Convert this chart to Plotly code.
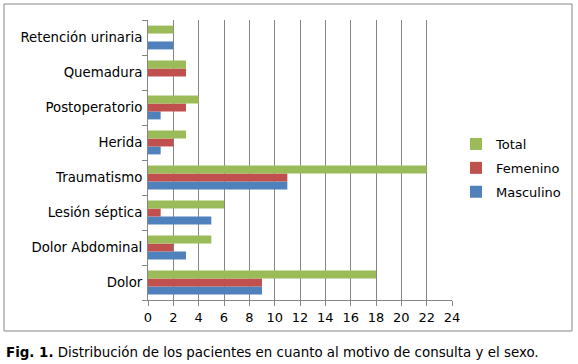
import plotly.graph_objects as go

categories = ["Dolor", "Dolor Abdominal", "Lesión séptica", "Traumatismo",
              "Herida", "Postoperatorio", "Quemadura", "Retención urinaria"]
masculino = [9, 3, 5, 11, 1, 1, 0, 2]
femenino = [9, 2, 1, 11, 2, 3, 3, 0]
total = [18, 5, 6, 22, 3, 4, 3, 2]
x_ticks = list(range(0, 25, 2))

W, H = 578, 364
L, R, T, B = 148, 126, 20, 64
pw, ph = W - L - R, H - T - B

def px(x):
    return (x - L) / pw

def py(y):
    return (H - B - y) / ph

fig = go.Figure()
fig.add_trace(go.Bar(y=categories, x=masculino, name="Masculino", orientation="h",
                     legendgroup="m", legendrank=3, marker=dict(color="#4F81BD", line=dict(width=0))))
fig.add_trace(go.Bar(y=categories, x=femenino, name="Femenino", orientation="h",
                     legendgroup="f", legendrank=2, marker=dict(color="#C0504D", line=dict(width=0))))
fig.add_trace(go.Bar(y=categories, x=total, name="Total", orientation="h",
                     legendgroup="t", legendrank=1, marker=dict(color="#9BBB59", line=dict(width=0))))

font = "Verdana, DejaVu Sans, sans-serif"
fig.update_layout(
    width=W, height=H,
    margin=dict(l=L, r=R, t=T, b=B, autoexpand=False),
    paper_bgcolor="white", plot_bgcolor="white",
    barmode="group", bargap=0.32, bargroupgap=0,
    font=dict(family=font, size=13, color="#000000"),
    showlegend=True,
    legend=dict(traceorder="grouped", x=px(456), y=py(168), xanchor="left", yanchor="middle",
                font=dict(size=13), itemwidth=30, tracegroupgap=4, bgcolor="rgba(0,0,0,0)"),
    xaxis=dict(range=[0, 24], tickvals=x_ticks, ticktext=[str(v) for v in x_ticks],
               showgrid=True, gridcolor="#868686", gridwidth=1,
               showline=True, linecolor="#868686", linewidth=1, automargin=False,
               ticks="outside", ticklen=5, tickcolor="#868686", zeroline=False,
               tickfont=dict(size=13)),
    yaxis=dict(showgrid=False, showline=True, linecolor="#868686", linewidth=1, automargin=False,
               ticks="outside", ticklen=5, tickcolor="#868686", tickson="boundaries",
               tickfont=dict(size=13.3), ticklabelstandoff=2),
)

fig.add_shape(type="rect", xref="paper", yref="paper",
              x0=px(4), x1=px(572), y0=py(331), y1=py(4),
              line=dict(color="#868686", width=1), fillcolor="rgba(0,0,0,0)", layer="below")

fig.add_annotation(xref="paper", yref="paper", x=px(4), y=py(352), xanchor="left", yanchor="middle",
                   showarrow=False, align="left",
                   text="<b>Fig. 1.</b> Distribución de los pacientes en cuanto al motivo de consulta y el sexo.",
                   font=dict(family=font, size=13.4, color="#000000"))

fig.write_html("out.html", config={"displayModeBar": False},
               post_script="document.body.style.margin='0';document.body.style.overflow='hidden';")
